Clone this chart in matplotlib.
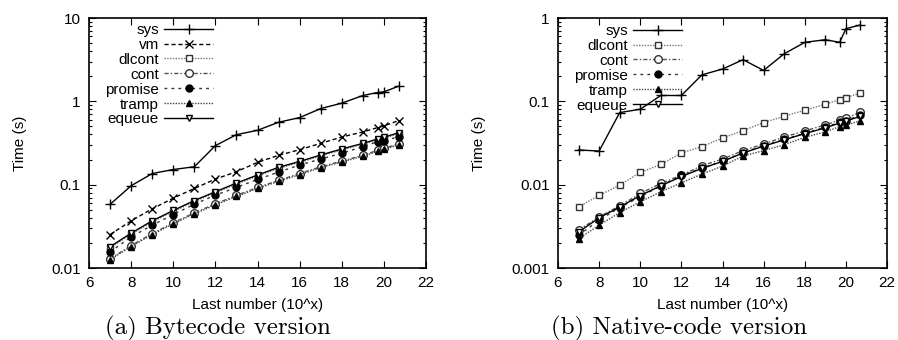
import matplotlib
matplotlib.use("Agg")
import matplotlib.pyplot as plt
from matplotlib.ticker import LogLocator, NullFormatter, FixedLocator, FuncFormatter

plt.rcParams['font.family'] = ['Liberation Sans', 'DejaVu Sans']

x = [7, 8, 9, 10, 11, 12, 13, 14, 15, 16, 17, 18, 19, 19.7, 20, 20.7]

# (a) Bytecode version
byte_sys = [0.058, 0.097, 0.136, 0.152, 0.164, 0.294, 0.398, 0.449, 0.561, 0.638, 0.819, 0.950, 1.174, 1.276, 1.30, 1.52]
byte_vm = [0.0252, 0.0368, 0.0513, 0.0689, 0.090, 0.1167, 0.143, 0.185, 0.225, 0.263, 0.313, 0.373, 0.429, 0.484, 0.507, 0.587]
byte_dlcont = [0.0174, 0.0254, 0.0358, 0.0476, 0.0628, 0.080, 0.1016, 0.127, 0.157, 0.185, 0.221, 0.261, 0.305, 0.344, 0.360, 0.409]
byte_cont = [0.0129, 0.0186, 0.0259, 0.0348, 0.0459, 0.0589, 0.0742, 0.0926, 0.1125, 0.136, 0.164, 0.192, 0.225, 0.258, 0.273, 0.308]
byte_promise = [0.0156, 0.0236, 0.0326, 0.0438, 0.0583, 0.0748, 0.0926, 0.1156, 0.1416, 0.172, 0.203, 0.238, 0.286, 0.328, 0.334, 0.377]
byte_tramp = [0.0126, 0.0181, 0.0252, 0.0339, 0.0447, 0.0573, 0.0722, 0.0901, 0.1095, 0.132, 0.160, 0.187, 0.219, 0.251, 0.266, 0.300]
byte_equeue = [0.0180, 0.0262, 0.0368, 0.0490, 0.0645, 0.0822, 0.1045, 0.1305, 0.1615, 0.190, 0.227, 0.268, 0.313, 0.353, 0.370, 0.420]

# (b) Native-code version
nat_sys = [0.0261, 0.0253, 0.0733, 0.0804, 0.1175, 0.1175, 0.208, 0.244, 0.316, 0.235, 0.372, 0.510, 0.549, 0.510, 0.745, 0.824]
nat_dlcont = [0.00542, 0.00742, 0.00988, 0.0140, 0.0175, 0.0240, 0.0286, 0.0363, 0.0445, 0.0556, 0.0662, 0.0782, 0.0923, 0.105, 0.111, 0.125]
nat_cont = [0.00284, 0.00411, 0.00557, 0.00784, 0.01035, 0.0130, 0.0169, 0.0203, 0.0256, 0.0308, 0.0373, 0.0441, 0.0521, 0.0598, 0.0627, 0.0740]
nat_promise = [0.00247, 0.00375, 0.00532, 0.00715, 0.0097, 0.0130, 0.0157, 0.0192, 0.0242, 0.0294, 0.035, 0.0414, 0.0489, 0.0561, 0.0587, 0.0687]
nat_tramp = [0.00225, 0.00326, 0.00463, 0.00623, 0.00822, 0.01054, 0.0134, 0.0167, 0.0221, 0.0256, 0.0302, 0.0370, 0.0429, 0.0498, 0.0516, 0.0587]
nat_equeue = [0.0027, 0.0040, 0.0054, 0.0074, 0.0097, 0.0125, 0.0157, 0.0190, 0.024, 0.029, 0.0345, 0.041, 0.048, 0.055, 0.058, 0.066]

styles = {
    'sys': dict(color='black', ls='-', marker='+', ms=7, mew=1.0),
    'vm': dict(color='black', ls=(0, (3, 2)), marker='x', ms=5.5, mew=1.0),
    'dlcont': dict(color='#777777', ls=(0, (1, 1)), marker='s', ms=5, mfc='white', mec='#333333', mew=1.0),
    'cont': dict(color='#555555', ls=(0, (3, 1.5, 1, 1.5)), marker='o', ms=5.5, mfc='white', mec='#333333', mew=1.0),
    'promise': dict(color='#333333', ls=(0, (2, 3)), marker='o', ms=5, mfc='black', mec='black'),
    'tramp': dict(color='#444444', ls=(0, (1, 1)), marker='^', ms=4, mfc='black', mec='black'),
    'equeue': dict(color='black', ls='-', marker='v', ms=5, mfc='white', mec='black', mew=1.0),
}

fig = plt.figure(figsize=(8.98, 3.40), dpi=100)
W, H = 898.0, 340.0

def make_axes(l, r, t, b):
    return fig.add_axes([l / W, 1 - b / H, (r - l) / W, (b - t) / H])

axA = make_axes(89, 426, 18, 268)
axB = make_axes(558, 887, 18, 268)

seriesA = [('sys', byte_sys), ('vm', byte_vm), ('dlcont', byte_dlcont), ('cont', byte_cont),
           ('promise', byte_promise), ('tramp', byte_tramp), ('equeue', byte_equeue)]
seriesB = [('sys', nat_sys), ('dlcont', nat_dlcont), ('cont', nat_cont),
           ('promise', nat_promise), ('tramp', nat_tramp), ('equeue', nat_equeue)]

def fmt(v, pos):
    return '%g' % v

FS = 11
for ax, series, ylim in [(axA, seriesA, (0.01, 10)), (axB, seriesB, (0.001, 1))]:
    for name, ys in series:
        ax.plot(x, ys, label=name, lw=1.0, **styles[name])
    ax.set_yscale('log')
    ax.set_xlim(6, 22)
    ax.set_ylim(*ylim)
    ax.xaxis.set_major_locator(FixedLocator([6, 8, 10, 12, 14, 16, 18, 20, 22]))
    ax.yaxis.set_major_locator(LogLocator(base=10))
    ax.yaxis.set_minor_locator(LogLocator(base=10, subs=range(2, 10)))
    ax.yaxis.set_minor_formatter(NullFormatter())
    ax.yaxis.set_major_formatter(FuncFormatter(fmt))
    ax.tick_params(which='both', direction='in', top=True, right=True, labelsize=FS, width=0.8)
    ax.tick_params(which='major', length=5)
    ax.tick_params(which='minor', length=2.5)
    ax.tick_params(axis='x', pad=6)
    ax.tick_params(axis='y', pad=6)
    for sp in ax.spines.values():
        sp.set_linewidth(1.2)
    ax.set_xlabel('Last number (10^x)', fontsize=FS)
    ax.set_ylabel('Time (s)', fontsize=FS)

axA.xaxis.set_label_coords(0.5, (268 - 305) / 250.0)
axB.xaxis.set_label_coords(0.5, (268 - 305) / 250.0)
axA.yaxis.set_label_coords((20 - 89) / 337.0, 0.5)
axB.yaxis.set_label_coords((479 - 558) / 329.0, 0.5)
for a in (axA, axB):
    a.xaxis.label.set_va('center')
    a.yaxis.label.set_va('center')

legkw = dict(frameon=False, markerfirst=False, numpoints=1, fontsize=FS, labelspacing=0.06,
             handlelength=3.2, handletextpad=0.35, borderpad=0, borderaxespad=0, loc='upper right')
axA.legend(bbox_to_anchor=((213 - 89) / 337.0, (268 - 23) / 250.0), **legkw)
axB.legend(bbox_to_anchor=((682 - 558) / 329.0, (268 - 24) / 250.0), **legkw)

fig.text(218 / W, 1 - 334 / H, '(a) Bytecode version', family='cmr10', fontsize=18, ha='center', va='baseline')
fig.text(679 / W, 1 - 334 / H, '(b) Native-code version', family='cmr10', fontsize=18, ha='center', va='baseline')

fig.savefig('out.png', dpi=100)
